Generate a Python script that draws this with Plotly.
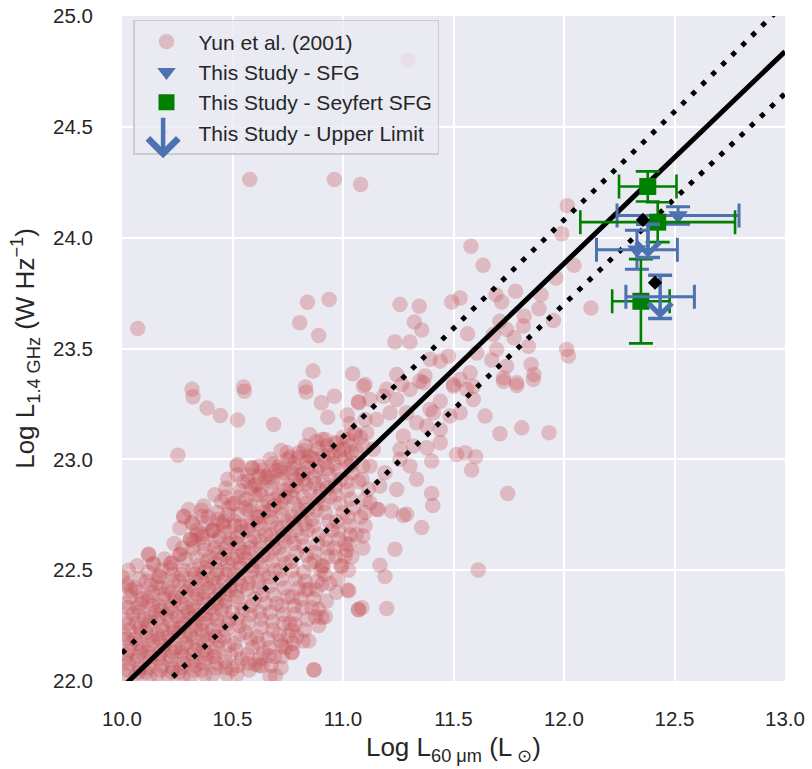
import plotly.graph_objects as go

# ---------------- Data ----------------
# Yun et al. (2001) comparison sample: (log L60um, log L1.4GHz)
yun_points = [
    # x 10.00-10.05
    (10.01,22.03),(10.03,22.08),(10.02,22.12),(10.04,22.17),(10.01,22.21),(10.03,22.26),(10.05,22.30),(10.02,22.35),(10.04,22.41),(10.00,22.47),(10.02,22.44),
    # 10.05-10.10
    (10.06,22.02),(10.08,22.06),(10.07,22.11),(10.09,22.15),(10.06,22.19),(10.08,22.24),(10.10,22.28),(10.07,22.33),(10.09,22.37),(10.06,22.42),(10.12,22.57),
    # 10.10-10.15
    (10.11,22.04),(10.13,22.09),(10.12,22.13),(10.14,22.18),(10.11,22.22),(10.13,22.27),(10.15,22.31),(10.12,22.36),(10.14,22.40),(10.11,22.45),(10.14,22.53),(10.17,22.47),
    # 10.15-10.20
    (10.16,22.03),(10.18,22.07),(10.17,22.12),(10.19,22.16),(10.16,22.21),(10.18,22.25),(10.20,22.30),(10.17,22.34),(10.19,22.39),(10.16,22.44),
    # 10.20-10.25
    (10.21,22.02),(10.23,22.06),(10.22,22.11),(10.24,22.15),(10.21,22.20),(10.23,22.24),(10.25,22.29),(10.22,22.33),(10.24,22.38),(10.21,22.42),(10.23,22.48),(10.22,22.53),(10.26,22.57),
    # 10.25-10.30
    (10.26,22.04),(10.28,22.08),(10.27,22.13),(10.29,22.17),(10.26,22.22),(10.28,22.26),(10.30,22.31),(10.27,22.35),(10.29,22.40),(10.26,22.45),(10.28,22.50),(10.31,22.64),(10.28,22.74),
    # 10.30-10.35
    (10.31,22.02),(10.33,22.07),(10.32,22.12),(10.34,22.16),(10.31,22.21),(10.33,22.25),(10.35,22.30),(10.32,22.34),(10.34,22.39),(10.31,22.43),(10.33,22.48),(10.35,22.52),(10.32,22.60),(10.34,22.66),(10.32,22.71),(10.36,22.77),
    # 10.35-10.40
    (10.36,22.05),(10.38,22.10),(10.37,22.14),(10.39,22.19),(10.36,22.23),(10.38,22.28),(10.40,22.33),(10.37,22.37),(10.39,22.42),(10.36,22.46),(10.38,22.51),(10.40,22.56),(10.37,22.62),(10.41,22.68),(10.39,22.74),
    # 10.40-10.45
    (10.41,22.03),(10.43,22.08),(10.42,22.13),(10.44,22.18),(10.41,22.23),(10.43,22.28),(10.45,22.32),(10.42,22.37),(10.44,22.41),(10.41,22.46),(10.43,22.50),(10.45,22.55),(10.42,22.60),(10.44,22.65),(10.46,22.70),(10.43,22.76),(10.45,22.81),
    # 10.45-10.50
    (10.47,22.06),(10.49,22.12),(10.46,22.20),(10.48,22.26),(10.50,22.31),(10.47,22.36),(10.49,22.41),(10.46,22.45),(10.48,22.50),(10.50,22.55),(10.47,22.60),(10.49,22.64),(10.51,22.70),(10.48,22.75),(10.50,22.80),(10.47,22.87),
    # 10.50-10.55
    (10.52,22.03),(10.54,22.10),(10.51,22.17),(10.53,22.25),(10.55,22.32),(10.52,22.38),(10.54,22.43),(10.51,22.48),(10.53,22.53),(10.55,22.58),(10.52,22.62),(10.54,22.67),(10.51,22.72),(10.56,22.78),(10.53,22.83),(10.55,22.90),(10.52,22.97),
    # 10.55-10.60
    (10.57,22.08),(10.59,22.15),(10.56,22.22),(10.58,22.30),(10.60,22.37),(10.57,22.44),(10.59,22.50),(10.56,22.55),(10.58,22.60),(10.60,22.65),(10.57,22.70),(10.61,22.74),(10.58,22.79),(10.60,22.84),(10.57,22.90),(10.59,22.96),
    # 10.60-10.65
    (10.62,22.07),(10.64,22.13),(10.61,22.20),(10.63,22.28),(10.65,22.35),(10.62,22.42),(10.64,22.48),(10.61,22.54),(10.63,22.60),(10.65,22.66),(10.62,22.71),(10.64,22.76),(10.66,22.81),(10.63,22.86),(10.65,22.92),(10.62,22.97),
    # 10.65-10.70
    (10.67,22.02),(10.69,22.11),(10.66,22.19),(10.68,22.27),(10.70,22.35),(10.67,22.43),(10.69,22.50),(10.66,22.57),(10.68,22.63),(10.70,22.69),(10.67,22.74),(10.69,22.79),(10.71,22.84),(10.68,22.90),(10.70,22.95),(10.67,23.00),
    # 10.70-10.75
    (10.72,22.06),(10.74,22.15),(10.71,22.21),(10.73,22.30),(10.75,22.38),(10.72,22.46),(10.74,22.53),(10.71,22.60),(10.73,22.66),(10.75,22.72),(10.72,22.78),(10.74,22.83),(10.76,22.88),(10.73,22.94),(10.75,23.00),(10.72,23.04),
    # 10.75-10.80
    (10.77,22.13),(10.79,22.20),(10.76,22.26),(10.78,22.34),(10.80,22.42),(10.77,22.50),(10.79,22.58),(10.76,22.65),(10.78,22.71),(10.80,22.77),(10.77,22.83),(10.79,22.88),(10.81,22.93),(10.78,22.98),(10.80,23.03),
    # 10.80-10.85
    (10.82,22.18),(10.84,22.28),(10.81,22.37),(10.83,22.45),(10.85,22.53),(10.82,22.61),(10.84,22.68),(10.81,22.74),(10.83,22.80),(10.85,22.86),(10.82,22.91),(10.84,22.96),(10.86,23.01),(10.83,23.06),
    # 10.85-10.90
    (10.87,22.05),(10.89,22.25),(10.86,22.33),(10.88,22.41),(10.90,22.50),(10.87,22.58),(10.89,22.66),(10.86,22.73),(10.88,22.80),(10.90,22.86),(10.87,22.92),(10.89,22.97),(10.91,23.02),(10.88,23.08),
    # 10.90-10.95
    (10.92,22.29),(10.94,22.44),(10.91,22.52),(10.93,22.60),(10.95,22.68),(10.92,22.76),(10.94,22.83),(10.91,22.90),(10.93,22.96),(10.95,23.02),(10.92,23.09),
    # 10.95-11.00
    (10.97,22.40),(10.99,22.52),(10.96,22.60),(10.98,22.68),(11.00,22.76),(10.97,22.84),(10.99,22.91),(10.96,22.98),(10.98,23.04),(11.00,23.10),
    # 11.00-11.05
    (11.02,22.41),(11.04,22.56),(11.01,22.62),(11.03,22.70),(11.05,22.78),(11.02,22.86),(11.04,22.94),(11.01,23.00),(11.03,23.06),(11.05,23.12),(11.02,23.20),
    # 11.05-11.10
    (11.07,22.32),(11.09,22.60),(11.06,22.66),(11.08,22.74),(11.10,22.82),(11.07,22.90),(11.09,22.97),(11.06,23.04),(11.08,23.10),(11.10,23.18),(11.07,23.26),
    # outliers and sparse points, left/top
    (10.071,23.59),(10.578,24.262),(10.961,24.262),(11.08,24.24),(11.294,24.80),
    (10.839,23.709),(10.937,23.721),(10.804,23.616),(10.89,23.559),(10.864,23.398),(11.044,23.386),
    (10.55,23.326),(10.83,23.326),(10.317,23.316),
    (10.321,23.282),(10.385,23.232),(10.445,23.198),(10.554,23.307),(10.523,23.177),(10.686,23.157),
    (10.833,23.304),(10.902,23.255),(10.961,23.285),(10.931,23.19),(11.071,23.255),(10.253,23.018),
    (10.523,22.977),(10.849,23.112),(10.905,23.09),(10.965,23.075),(11.056,23.112),(10.747,23.03),
    (10.80,23.007),(10.588,22.962),(10.618,22.925),(10.664,22.917),(10.603,22.883),(10.716,22.955),
    (10.769,22.94),(10.845,23.015),(10.935,23.03),(11.003,23.045),(11.041,22.985),(11.086,22.91),
    (10.302,22.774),(10.279,22.744),(10.362,22.744),(10.317,22.714),(10.121,22.572),(10.143,22.527),
    (10.166,22.474),(10.264,22.572),(10.226,22.534),(10.309,22.639),(10.362,22.662),(10.407,22.677),
    (10.452,22.714),(11.026,22.617),(11.01,22.564),(10.995,22.519),(10.905,22.519),(10.905,22.437),
    (11.026,22.407),(11.07,22.324),(10.845,22.414),(10.89,22.324),(10.905,22.286),(10.784,22.256),
    (10.845,22.181),(10.754,22.204),(10.724,22.159),(10.769,22.129),(10.664,22.114),(10.633,22.069),
    (10.603,22.076),(10.867,22.051),(10.694,22.024),(10.498,22.054),
    # middle/upper right
    (12.015,24.144),(11.99,24.018),(11.579,23.961),(11.634,23.876),(12.045,23.876),(11.964,23.818),
    (11.781,23.758),(11.896,23.743),(11.258,23.698),(11.345,23.691),(11.492,23.71),(11.53,23.728),
    (11.692,23.743),(11.718,23.71),(11.887,23.679),(12.122,23.683),(11.323,23.62),(11.356,23.583),
    (11.235,23.529),(11.303,23.529),(11.564,23.566),(11.71,23.623),(11.82,23.646),(11.816,23.601),
    (11.74,23.586),(11.68,23.563),(11.774,23.548),(11.952,23.626),(11.839,23.51),(11.695,23.496),
    (11.673,23.448),(11.74,23.42),(11.605,23.48),(11.477,23.466),(11.44,23.443),(11.394,23.451),
    (12.012,23.496),(12.02,23.466),(11.851,23.428),(11.864,23.383),(11.726,23.368),(11.786,23.346),
    (11.575,23.391),(11.53,23.36),(11.50,23.338),(11.371,23.376),(11.348,23.353),(11.243,23.383),
    (11.266,23.338),(11.10,23.338),(11.198,23.316),(11.59,23.33),
    (11.726,23.352),(11.786,23.333),(11.861,23.36),(11.643,23.195),(11.71,23.115),(11.809,23.142),
    (11.932,23.12),(11.514,23.022),(11.552,23.03),(11.60,23.012),(11.582,22.952),(11.745,22.846),
    (11.612,22.501),(11.401,22.992),(11.333,22.91),(11.243,22.864),(11.401,22.846),(11.406,22.792),
    (11.356,22.692),(11.235,22.594),(11.167,22.522),(11.19,22.471),(11.198,22.327),(11.085,22.33),
    (11.22,22.767),(11.273,22.747),(11.288,22.752),(11.16,22.774),(11.10,22.76),(11.10,22.70),
    (11.09,22.654),(11.122,22.804),
    (11.092,23.33),(11.122,23.27),(11.183,23.285),(11.243,23.27),(11.303,23.315),(11.364,23.345),
    (11.44,23.262),(11.50,23.33),(11.56,23.315),(11.53,23.21),(11.59,23.27),(11.484,23.195),
    (11.409,23.21),(11.379,23.15),(11.44,23.135),(11.333,23.165),(11.273,23.105),(11.258,23.045),
    (11.318,23.06),(11.379,23.052),(11.44,23.075),(11.394,23.225),(11.288,23.21),(11.213,23.21),
    (11.152,23.18),(11.107,23.12),(11.092,23.06),(11.137,23.045),(11.122,22.97),(11.19,22.94),
    (11.167,22.88),(11.115,22.865),(11.152,22.775),(11.258,23.0),(11.303,22.97),
]
# second layer of the dense core (points overlapping the first layer)
yun_core_points = [
    (10.025,22.05),(10.018,22.10),(10.031,22.14),(10.022,22.19),(10.035,22.23),(10.016,22.28),(10.028,22.33),(10.038,22.38),(10.021,22.43),(10.030,22.50),
    (10.075,22.04),(10.068,22.09),(10.082,22.13),(10.071,22.17),(10.085,22.22),(10.066,22.26),(10.078,22.31),(10.088,22.35),(10.072,22.40),(10.080,22.46),(10.069,22.52),
    (10.125,22.02),(10.118,22.06),(10.131,22.11),(10.122,22.16),(10.135,22.20),(10.116,22.25),(10.128,22.29),(10.138,22.34),(10.121,22.38),(10.130,22.43),(10.119,22.49),
    (10.175,22.05),(10.168,22.10),(10.182,22.14),(10.171,22.19),(10.185,22.23),(10.166,22.28),(10.178,22.32),(10.188,22.37),(10.172,22.42),(10.180,22.50),(10.192,22.55),
    (10.225,22.04),(10.218,22.09),(10.231,22.13),(10.222,22.18),(10.235,22.22),(10.216,22.27),(10.228,22.31),(10.238,22.36),(10.221,22.40),(10.230,22.45),(10.219,22.51),(10.236,22.62),
    (10.275,22.02),(10.268,22.06),(10.282,22.11),(10.271,22.15),(10.285,22.20),(10.266,22.24),(10.278,22.29),(10.288,22.33),(10.272,22.38),(10.280,22.43),(10.269,22.48),(10.286,22.55),(10.274,22.60),(10.262,22.69),
    (10.325,22.05),(10.318,22.09),(10.331,22.14),(10.322,22.19),(10.335,22.23),(10.316,22.28),(10.328,22.32),(10.338,22.37),(10.321,22.41),(10.330,22.46),(10.319,22.50),(10.336,22.56),(10.324,22.63),(10.340,22.68),
    (10.375,22.03),(10.368,22.08),(10.382,22.12),(10.371,22.17),(10.385,22.21),(10.366,22.26),(10.378,22.30),(10.388,22.35),(10.372,22.40),(10.380,22.44),(10.369,22.49),(10.386,22.54),(10.374,22.59),(10.362,22.65),(10.384,22.71),(10.370,22.79),
    (10.425,22.06),(10.418,22.11),(10.431,22.15),(10.422,22.20),(10.435,22.25),(10.416,22.30),(10.428,22.35),(10.438,22.39),(10.421,22.44),(10.430,22.48),(10.419,22.53),(10.436,22.58),(10.424,22.63),(10.412,22.68),(10.434,22.73),(10.420,22.84),
    (10.475,22.03),(10.468,22.09),(10.482,22.16),(10.471,22.23),(10.485,22.28),(10.466,22.34),(10.478,22.39),(10.488,22.43),(10.472,22.48),(10.480,22.53),(10.469,22.57),(10.486,22.62),(10.474,22.67),(10.462,22.72),(10.484,22.78),(10.470,22.83),(10.479,22.91),
    (10.525,22.07),(10.518,22.14),(10.531,22.21),(10.522,22.28),(10.535,22.35),(10.516,22.41),(10.528,22.46),(10.538,22.51),(10.521,22.56),(10.530,22.60),(10.519,22.65),(10.536,22.70),(10.524,22.75),(10.512,22.80),(10.534,22.86),(10.520,22.93),
    (10.575,22.05),(10.568,22.12),(10.582,22.19),(10.571,22.26),(10.585,22.34),(10.566,22.41),(10.578,22.47),(10.588,22.52),(10.572,22.58),(10.580,22.63),(10.569,22.68),(10.586,22.72),(10.574,22.77),(10.562,22.82),(10.584,22.87),(10.570,22.93),
    (10.625,22.10),(10.618,22.17),(10.631,22.24),(10.622,22.31),(10.635,22.39),(10.616,22.45),(10.628,22.51),(10.638,22.57),(10.621,22.63),(10.630,22.69),(10.619,22.74),(10.636,22.79),(10.624,22.84),(10.612,22.89),(10.634,22.95),
    (10.675,22.07),(10.668,22.15),(10.682,22.23),(10.671,22.31),(10.685,22.39),(10.666,22.47),(10.678,22.54),(10.688,22.60),(10.672,22.66),(10.680,22.72),(10.669,22.77),(10.686,22.82),(10.674,22.87),(10.662,22.93),(10.684,22.98),
    (10.725,22.11),(10.718,22.18),(10.731,22.26),(10.722,22.34),(10.735,22.42),(10.716,22.50),(10.728,22.57),(10.738,22.63),(10.721,22.69),(10.730,22.75),(10.719,22.81),(10.736,22.86),(10.724,22.91),(10.712,22.97),
    (10.775,22.17),(10.768,22.23),(10.782,22.30),(10.771,22.38),(10.785,22.46),(10.766,22.54),(10.778,22.62),(10.788,22.68),(10.772,22.74),(10.780,22.80),(10.769,22.86),(10.786,22.91),(10.774,22.96),(10.762,23.01),
    (10.825,22.23),(10.818,22.33),(10.831,22.41),(10.822,22.49),(10.835,22.57),(10.816,22.65),(10.828,22.71),(10.838,22.77),(10.821,22.83),(10.830,22.89),(10.819,22.94),(10.836,22.99),(10.824,23.04),
    (10.875,22.29),(10.868,22.37),(10.882,22.45),(10.871,22.54),(10.885,22.62),(10.866,22.70),(10.878,22.77),(10.888,22.83),(10.872,22.89),(10.880,22.95),(10.869,23.00),(10.886,23.05),
    (10.925,22.36),(10.918,22.48),(10.931,22.56),(10.922,22.64),(10.935,22.72),(10.916,22.80),(10.928,22.87),(10.938,22.93),(10.921,22.99),(10.930,23.06),
    (10.975,22.46),(10.968,22.56),(10.982,22.64),(10.971,22.72),(10.985,22.80),(10.966,22.88),(10.978,22.95),(10.988,23.01),(10.972,23.07),
    (11.025,22.50),(11.018,22.59),(11.031,22.66),(11.022,22.74),(11.035,22.82),(11.016,22.90),(11.028,22.97),(11.038,23.03),(11.021,23.09),(11.030,23.16),
]
yun_x = [p[0] for p in yun_points] + [p[0] for p in yun_core_points]
yun_y = [p[1] for p in yun_points] + [p[1] for p in yun_core_points]

# Radio-FIR relation (solid) and its scatter envelope (dotted): endpoints at x = 10 and 13
rel_x = [10.0, 13.0]
rel_y = [21.97, 24.84]
rel_upper_y = [22.125, 25.057]
rel_lower_y = [21.80, 24.65]

# This study - SFG
sfg_x = [12.516, 12.33]
sfg_y = [24.10, 23.946]
sfg_xerr = [0.276, 0.183]
sfg_yerr = [0.04, 0.088]

# This study - Seyfert SFG
sey_x = [12.379, 12.424, 12.348]
sey_y = [24.231, 24.07, 23.713]
sey_xerr = [0.13, 0.35, 0.13]
sey_yerr = [0.068, 0.09, 0.19]

# This study - upper limits
ul_x = [12.38, 12.435]
ul_y = [23.985, 23.733]
ul_yerr = [0.075, 0.098]
ul_xerr = [0.0, 0.155]
ul_mark_x = [12.357, 12.412]
ul_mark_y = [24.08, 23.797]

# ---------------- Styling ----------------
RED = "rgba(196,78,82,0.30)"
BLUE = "#4C72B0"
GREEN = "#008000"
TXT = "#262626"
FONT = "Liberation Sans, Arial, sans-serif"
CLEAR = "rgba(0,0,0,0)"

fig = go.Figure()

fig.add_trace(go.Scatter(
    x=yun_x, y=yun_y, mode="markers", name="Yun et al. (2001)",
    marker=dict(color=RED, size=15.5, line=dict(width=0)),
    legendgroup="a", legendrank=1,
))

fig.add_trace(go.Scatter(
    x=rel_x, y=rel_y, mode="lines", showlegend=False,
    line=dict(color="black", width=5),
))
for yy in (rel_upper_y, rel_lower_y):
    fig.add_trace(go.Scatter(
        x=rel_x, y=yy, mode="lines", showlegend=False,
        line=dict(color="black", width=5, dash="5px,9px"),
    ))

fig.add_trace(go.Scatter(
    x=sfg_x, y=sfg_y, mode="markers", name="This Study - SFG",
    marker=dict(color=BLUE, size=17, symbol="triangle-down", line=dict(width=0)),
    error_x=dict(type="data", array=sfg_xerr, color=BLUE, thickness=3, width=12),
    error_y=dict(type="data", array=sfg_yerr, color=BLUE, thickness=3, width=12),
    legendgroup="b", legendrank=2,
))

fig.add_trace(go.Scatter(
    x=sey_x, y=sey_y, mode="markers", name="This Study - Seyfert SFG",
    marker=dict(color=GREEN, size=17, symbol="square", line=dict(width=0)),
    error_x=dict(type="data", array=sey_xerr, color=GREEN, thickness=2.6, width=12),
    error_y=dict(type="data", array=sey_yerr, color=GREEN, thickness=2.6, width=12),
    legendgroup="c", legendrank=3,
))

fig.add_trace(go.Scatter(
    x=ul_x, y=ul_y, mode="markers", name="This Study - Upper Limit",
    marker=dict(color=BLUE, size=1, opacity=0),
    error_x=dict(type="data", array=ul_xerr, color=BLUE, thickness=3, width=12),
    error_y=dict(type="data", array=ul_yerr, color=BLUE, thickness=3.5, width=12),
    legendgroup="d", legendrank=4,
))

fig.add_trace(go.Scatter(
    x=ul_mark_x, y=ul_mark_y, mode="markers", showlegend=False,
    marker=dict(color="black", size=11, symbol="diamond", line=dict(width=0)),
))

annotations = []
for xi, yi, ei in zip(ul_x, ul_y, ul_yerr):
    annotations.append(dict(
        x=xi, y=yi - ei, ax=xi, ay=yi - ei + 0.06, xref="x", yref="y",
        axref="x", ayref="y", showarrow=True, arrowhead=4, arrowsize=1.3,
        arrowwidth=3.5, arrowcolor=BLUE, standoff=0, text="",
    ))

# arrow glyph for the upper-limit legend entry (pixel offset for the tail)
annotations.append(dict(
    x=0.062, y=0.786, ax=0, ay=-42, xref="paper", yref="paper",
    axref="pixel", ayref="pixel", showarrow=True, arrowhead=4, arrowsize=1.3,
    arrowwidth=4.5, arrowcolor=BLUE, standoff=0, text="",
))

fig.update_layout(
    width=812, height=769,
    margin=dict(l=122, r=27, t=16, b=88, autoexpand=False),
    paper_bgcolor="white", plot_bgcolor="#EAEAF2",
    font=dict(family=FONT, color=TXT),
    annotations=annotations,
    legend=dict(
        x=0.0166, y=0.994, xanchor="left", yanchor="top",
        bgcolor="rgba(234,234,242,0.8)", bordercolor="#CCCCCC", borderwidth=1.5,
        font=dict(size=21, family=FONT, color=TXT), tracegroupgap=0,
        itemwidth=54,
    ),
    xaxis=dict(
        range=[10, 13], tickvals=[10, 10.5, 11, 11.5, 12, 12.5, 13],
        tickformat=".1f", showgrid=True, gridcolor="white", gridwidth=2,
        zeroline=False, showline=False, ticks="outside", ticklen=19, tickcolor=CLEAR,
        automargin=False,
        tickfont=dict(size=20.5, color=TXT),
        title=dict(text="Log L<sub>60 μm</sub> (L<sub> ⊙</sub>)", font=dict(size=26, color=TXT), standoff=9),
    ),
    yaxis=dict(
        range=[22, 25], tickvals=[22, 22.5, 23, 23.5, 24, 24.5, 25],
        tickformat=".1f", showgrid=True, gridcolor="white", gridwidth=2,
        zeroline=False, showline=False, ticks="outside", ticklen=24, tickcolor=CLEAR,
        automargin=False,
        tickfont=dict(size=20.5, color=TXT),
        title=dict(text="Log L<sub>1.4 GHz</sub> (W Hz<sup>−1</sup>)", font=dict(size=26, color=TXT), standoff=10),
    ),
)

fig.write_html(
    "out.html",
    config={"displayModeBar": False},
    post_script="document.body.style.margin='0';document.body.style.overflow='hidden';",
)
